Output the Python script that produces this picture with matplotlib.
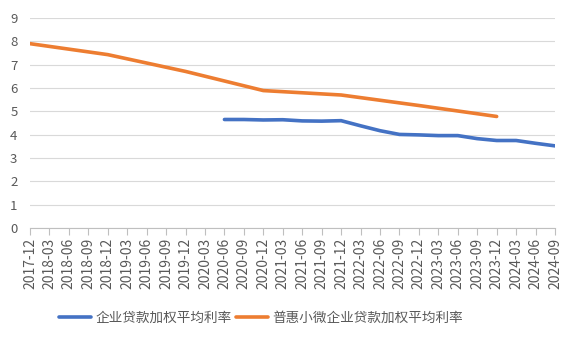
import matplotlib
matplotlib.use("Agg")
import matplotlib.pyplot as plt
import numpy as np

plt.rcParams['font.family'] = ['Noto Sans CJK SC', 'DejaVu Sans']

# quarterly categories
quarters = ["2017-12", "2018-03", "2018-06", "2018-09", "2018-12", "2019-03", "2019-06",
            "2019-09", "2019-12", "2020-03", "2020-06", "2020-09", "2020-12", "2021-03",
            "2021-06", "2021-09", "2021-12", "2022-03", "2022-06", "2022-09", "2022-12",
            "2023-03", "2023-06", "2023-09", "2023-12", "2024-03", "2024-06", "2024-09"]

# 企业贷款加权平均利率 (2020-06 onward)
corp_dates = quarters[10:]
corp_rate = [4.65, 4.65, 4.63, 4.64, 4.59, 4.58, 4.60, 4.38, 4.17, 4.01, 3.99, 3.96,
             3.96, 3.83, 3.75, 3.75, 3.63, 3.52]

# 普惠小微企业贷款加权平均利率 (year-end points, gaps connected)
sme_dates = ["2017-12", "2018-12", "2019-12", "2020-12", "2021-12", "2022-12", "2023-12"]
sme_rate = [7.9, 7.43, 6.71, 5.89, 5.70, 5.25, 4.78]

name_corp = "企业贷款加权平均利率"
name_sme = "普惠小微企业贷款加权平均利率"

fig = plt.figure(figsize=(5.73, 3.42), dpi=100)
ax = fig.add_axes([30/573, 1 - 228/342, 525/573, 210/342])

idx = {q: i for i, q in enumerate(quarters)}
ax.plot([idx[d] for d in corp_dates], corp_rate, color="#4472C4", lw=2.6,
        solid_capstyle="round", label=name_corp)
ax.plot([idx[d] for d in sme_dates], sme_rate, color="#ED7D31", lw=2.6,
        solid_capstyle="round", label=name_sme)

ax.set_xlim(0, len(quarters) - 1)
ax.set_ylim(0, 9)
ax.set_yticks(range(0, 10))
ax.set_xticks(range(len(quarters)))
ax.set_xticklabels(quarters, rotation=90)
ax.grid(axis="y", color="#D9D9D9", lw=0.8)
ax.set_axisbelow(True)
for s in ["left", "right", "top"]:
    ax.spines[s].set_visible(False)
ax.spines["bottom"].set_color("#BFBFBF")
ax.tick_params(axis="y", length=0, labelsize=9.5, labelcolor="#595959", pad=9)
ax.tick_params(axis="x", length=5, color="#BFBFBF", labelsize=10, labelcolor="#595959", pad=2)

fig.legend(loc="center", bbox_to_anchor=(261/573, 1 - 318/342), ncol=2, frameon=False,
           fontsize=9.8, handlelength=2.35, columnspacing=0.35, handletextpad=0.3,
           labelcolor="#595959")

fig.savefig("out.png", dpi=100)
